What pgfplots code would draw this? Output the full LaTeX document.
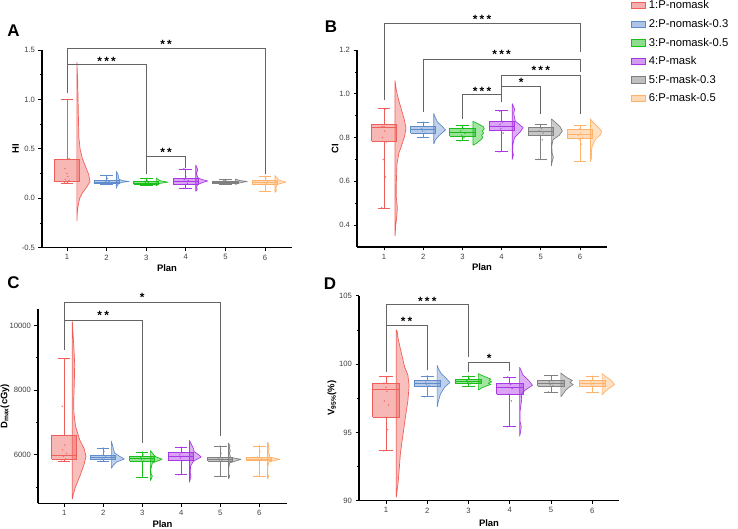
\documentclass[border=0pt]{standalone}
\usepackage{fontspec}
\setmainfont{Liberation Sans}
\usepackage{pgfplots}
\pgfplotsset{compat=1.18}

\definecolor{c1}{RGB}{238,95,90}
\definecolor{c2}{RGB}{95,140,205}
\definecolor{c3}{RGB}{25,190,25}
\definecolor{c4}{RGB}{170,55,230}
\definecolor{c5}{RGB}{128,128,128}
\definecolor{c6}{RGB}{255,178,105}
\definecolor{brk}{RGB}{100,100,100}

\pgfplotsset{
  panel/.style={
    scale only axis, anchor=south west, clip=false,
    axis lines*=left,
    axis line style={line width=1.1pt, black},
    xtick={1,2,3,4,5,6},
    tick align=outside, major tick length=3.5bp, minor tick length=2bp,
    every tick/.style={black, line width=0.7pt},
    tick label style={font=\fontsize{7.7}{8}\selectfont, text=black!75},
    /pgf/number format/assume math mode=true,
    /pgf/number format/1000 sep={},
    scaled y ticks=false,
    xlabel=Plan,
    label style={font=\bfseries\fontsize{9.5}{10}\selectfont},
  },
  vio/.style={draw=#1, fill=#1, fill opacity=0.4, line width=0.7pt, line join=round},
  bx/.style={draw=#1, fill=#1, fill opacity=0.45, line width=0.8pt},
  bxl/.style={draw=#1, line width=0.8pt},
  pts/.style={only marks, mark=*, mark size=0.6bp, draw=#1, fill=#1, opacity=0.6},
  br/.style={draw=brk, line width=0.75pt},
}
\tikzset{stars/.style={font=\bfseries\fontsize{12}{12}\selectfont, inner sep=0pt, yshift=-2.6bp}}
\newcommand{\starOne}{*}
\newcommand{\starTwo}{*\kern2.2bp*}
\newcommand{\starThree}{*\kern2.2bp*\kern2.2bp*}

% box with whiskers: colour, position, lower whisker, lower quartile, median, upper quartile, upper whisker
\newcommand{\bxp}[7]{%
  \addplot[bx=#1] table[row sep=\\, x expr=\thisrow{d}+#2, y=y] {d y\\ -0.32 #4\\ 0.32 #4\\ 0.32 #6\\ -0.32 #6\\ -0.32 #4\\};
  \addplot[bxl=#1] table[row sep=\\, x expr=\thisrow{d}+#2, y=y] {d y\\ -0.32 #5\\ 0.32 #5\\};
  \addplot[bxl=#1] table[row sep=\\, x expr=\thisrow{d}+#2, y=y] {d y\\ 0 #3\\ 0 #4\\};
  \addplot[bxl=#1] table[row sep=\\, x expr=\thisrow{d}+#2, y=y] {d y\\ 0 #6\\ 0 #7\\};
  \addplot[bxl=#1] table[row sep=\\, x expr=\thisrow{d}+#2, y=y] {d y\\ -0.16 #3\\ 0.16 #3\\};
  \addplot[bxl=#1] table[row sep=\\, x expr=\thisrow{d}+#2, y=y] {d y\\ -0.16 #7\\ 0.16 #7\\};
}

\begin{document}
\begin{tikzpicture}
\path[use as bounding box] (0,0) rectangle (738bp,529bp);

%% ---------------- Panel A: HI ----------------
\begin{axis}[panel, at={(42bp,281.3bp)}, width=250bp, height=197.7bp,
  xmin=0.37, xmax=6.68, ymin=-0.5, ymax=1.5,
  ytick={-0.5,0,0.5,1,1.5}, minor ytick={-0.25,0.25,0.75,1.25},
  yticklabel style={/pgf/number format/.cd, fixed, fixed zerofill, precision=1},
  ylabel=HI,
  xlabel style={at={(axis description cs:0.5,-0.103)}, anchor=center},
  ylabel style={at={(axis description cs:-0.106,0.5)}, anchor=center}]
% half violins
\addplot[vio=c1] table[row sep=\\, x expr=\thisrow{w}+1.25, y=y] {w y\\
0 -0.23\\ 0.01 -0.15\\ 0.03 -0.08\\ 0.07 0.0\\ 0.15 0.06\\ 0.26 0.12\\ 0.33 0.17\\ 0.30 0.24\\ 0.22 0.32\\ 0.14 0.40\\ 0.08 0.50\\ 0.05 0.62\\ 0.04 0.80\\ 0.03 1.00\\ 0.02 1.20\\ 0 1.38\\ 0 -0.23\\};
\addplot[vio=c2] table[row sep=\\, x expr=\thisrow{w}+2.25, y=y] {w y\\
0 0.10\\ 0.02 0.13\\ 0.06 0.15\\ 0.15 0.162\\ 0.32 0.17\\ 0.16 0.178\\ 0.07 0.19\\ 0.05 0.21\\ 0.04 0.24\\ 0 0.27\\ 0 0.10\\};
\addplot[vio=c3] table[row sep=\\, x expr=\thisrow{w}+3.25, y=y] {w y\\
0 0.125\\ 0.08 0.15\\ 0.30 0.163\\ 0.12 0.175\\ 0.05 0.19\\ 0 0.205\\ 0 0.125\\};
\addplot[vio=c4] table[row sep=\\, x expr=\thisrow{w}+4.25, y=y] {w y\\
0 0.07\\ 0.04 0.09\\ 0.02 0.11\\ 0.05 0.14\\ 0.18 0.16\\ 0.30 0.175\\ 0.15 0.19\\ 0.05 0.21\\ 0.02 0.25\\ 0.05 0.29\\ 0.03 0.31\\ 0 0.335\\ 0 0.07\\};
\addplot[vio=c5] table[row sep=\\, x expr=\thisrow{w}+5.25, y=y] {w y\\
0 0.14\\ 0.10 0.155\\ 0.30 0.17\\ 0.10 0.18\\ 0 0.195\\ 0 0.14\\};
\addplot[vio=c6] table[row sep=\\, x expr=\thisrow{w}+6.25, y=y] {w y\\
0 0.06\\ 0.04 0.075\\ 0.02 0.10\\ 0.06 0.14\\ 0.28 0.165\\ 0.12 0.18\\ 0.07 0.20\\ 0.03 0.215\\ 0 0.23\\ 0 0.06\\};
% boxes
\bxp{c1}{1}{0.152}{0.168}{0.175}{0.394}{1.0}
\bxp{c2}{2}{0.14}{0.148}{0.165}{0.178}{0.228}
\bxp{c3}{3}{0.135}{0.143}{0.155}{0.168}{0.20}
\bxp{c4}{4}{0.095}{0.145}{0.175}{0.20}{0.295}
\bxp{c5}{5}{0.14}{0.148}{0.162}{0.175}{0.19}
\bxp{c6}{6}{0.07}{0.14}{0.16}{0.18}{0.22}
% observations
\addplot[pts=c1] coordinates {(0.94,0.16)(1.04,0.17)(0.98,0.17)(1.06,0.18)(0.96,0.19)(1.02,0.22)(1.0,0.25)(0.95,0.30)(1.05,0.40)(1.03,1.0)};
\addplot[pts=c2] coordinates {(1.94,0.15)(2.04,0.16)(1.98,0.17)(2.06,0.17)(1.96,0.18)(2.02,0.20)(2.0,0.23)};
\addplot[pts=c3] coordinates {(2.94,0.14)(3.04,0.15)(2.98,0.16)(3.06,0.16)(2.96,0.17)(3.02,0.18)(3.0,0.20)};
\addplot[pts=c4] coordinates {(3.94,0.10)(4.04,0.15)(3.98,0.17)(4.06,0.18)(3.96,0.19)(4.02,0.20)(4.0,0.22)(3.95,0.30)};
\addplot[pts=c5] coordinates {(4.94,0.15)(5.04,0.16)(4.98,0.17)(5.06,0.17)(4.96,0.18)(5.02,0.19)};
\addplot[pts=c6] coordinates {(5.94,0.07)(6.04,0.15)(5.98,0.16)(6.06,0.17)(5.96,0.18)(6.02,0.20)(6.0,0.22)};
% significance brackets
\addplot[br] coordinates {(1,1.358)(1,1.52)(6,1.52)(6,0.25)};
\addplot[br] coordinates {(1,1.06)(1,1.358)(3,1.358)(3,0.25)};
\addplot[br] coordinates {(3,0.25)(3,0.428)(4,0.428)(4,0.31)};
\node[stars] at (axis cs:3.5,1.585) {\starTwo};
\node[stars] at (axis cs:2,1.416) {\starThree};
\node[stars] at (axis cs:3.5,0.488) {\starTwo};
\end{axis}

%% ---------------- Panel B: CI ----------------
\begin{axis}[panel, at={(357bp,282bp)}, width=250bp, height=197bp,
  xmin=0.31, xmax=6.69, ymin=0.3, ymax=1.2,
  ytick={0.4,0.6,0.8,1.0,1.2}, minor ytick={0.5,0.7,0.9,1.1},
  yticklabel style={/pgf/number format/.cd, fixed, fixed zerofill, precision=1},
  ylabel=CI,
  xlabel style={at={(axis description cs:0.5,-0.1015)}, anchor=center},
  ylabel style={at={(axis description cs:-0.088,0.5)}, anchor=center},
  legend style={at={(axis description cs:1.096,1.266)}, anchor=north west,
    draw=none, fill=none, inner sep=0pt, row sep=2.9bp,
    font=\fontsize{11.3}{12}\selectfont,
    nodes={inner sep=3bp, font=\fontsize{11.3}{12}\selectfont}},
  legend cell align=left,
  legend image code/.code={\draw[#1] (0bp,-3.2bp) rectangle (14bp,3.2bp);}]
\addlegendimage{draw=c1, fill=c1, fill opacity=0.5, line width=0.7pt}
\addlegendentry{1:P-nomask}
\addlegendimage{draw=c2, fill=c2, fill opacity=0.5, line width=0.7pt}
\addlegendentry{2:P-nomask-0.3}
\addlegendimage{draw=c3, fill=c3, fill opacity=0.5, line width=0.7pt}
\addlegendentry{3:P-nomask-0.5}
\addlegendimage{draw=c4, fill=c4, fill opacity=0.5, line width=0.7pt}
\addlegendentry{4:P-mask}
\addlegendimage{draw=c5, fill=c5, fill opacity=0.5, line width=0.7pt}
\addlegendentry{5:P-mask-0.3}
\addlegendimage{draw=c6, fill=c6, fill opacity=0.5, line width=0.7pt}
\addlegendentry{6:P-mask-0.5}
% half violins
\addplot[vio=c1] table[row sep=\\, x expr=\thisrow{w}+1.28, y=y] {w y\\
0 0.35\\ 0.02 0.40\\ 0.05 0.45\\ 0.06 0.48\\ 0.03 0.53\\ 0.035 0.60\\ 0.05 0.68\\ 0.10 0.73\\ 0.18 0.77\\ 0.25 0.81\\ 0.28 0.845\\ 0.24 0.88\\ 0.16 0.93\\ 0.08 0.98\\ 0.03 1.02\\ 0 1.06\\ 0 0.35\\};
\addplot[vio=c2] table[row sep=\\, x expr=\thisrow{w}+2.27, y=y] {w y\\
0 0.77\\ 0.04 0.79\\ 0.14 0.81\\ 0.30 0.835\\ 0.22 0.85\\ 0.10 0.87\\ 0.04 0.89\\ 0 0.91\\ 0 0.77\\};
\addplot[vio=c3] table[row sep=\\, x expr=\thisrow{w}+3.27, y=y] {w y\\
0 0.765\\ 0.10 0.775\\ 0.20 0.79\\ 0.25 0.80\\ 0.22 0.81\\ 0.27 0.82\\ 0.24 0.83\\ 0.29 0.84\\ 0.26 0.85\\ 0.16 0.86\\ 0 0.874\\ 0 0.765\\};
\addplot[vio=c4] table[row sep=\\, x expr=\thisrow{w}+4.27, y=y] {w y\\
0 0.70\\ 0.03 0.72\\ 0.01 0.74\\ 0.02 0.77\\ 0.06 0.80\\ 0.20 0.825\\ 0.28 0.845\\ 0.18 0.86\\ 0.08 0.875\\ 0.06 0.89\\ 0.04 0.91\\ 0.06 0.93\\ 0 0.955\\ 0 0.70\\};
\addplot[vio=c5] table[row sep=\\, x expr=\thisrow{w}+5.27, y=y] {w y\\
0 0.67\\ 0.02 0.69\\ 0.05 0.71\\ 0.02 0.73\\ 0.01 0.76\\ 0.04 0.79\\ 0.20 0.81\\ 0.28 0.83\\ 0.22 0.85\\ 0.10 0.87\\ 0 0.885\\ 0 0.67\\};
\addplot[vio=c6] table[row sep=\\, x expr=\thisrow{w}+6.27, y=y] {w y\\
0 0.69\\ 0.03 0.71\\ 0.02 0.73\\ 0.04 0.76\\ 0.12 0.79\\ 0.26 0.815\\ 0.28 0.83\\ 0.18 0.85\\ 0.06 0.87\\ 0 0.885\\ 0 0.69\\};
% boxes
\bxp{c1}{1}{0.478}{0.783}{0.848}{0.858}{0.932}
\bxp{c2}{2}{0.80}{0.82}{0.835}{0.851}{0.870}
\bxp{c3}{3}{0.785}{0.806}{0.822}{0.840}{0.855}
\bxp{c4}{4}{0.736}{0.832}{0.850}{0.874}{0.924}
\bxp{c5}{5}{0.702}{0.81}{0.828}{0.845}{0.862}
\bxp{c6}{6}{0.69}{0.794}{0.815}{0.835}{0.855}
% observations
\addplot[pts=c1] coordinates {(0.94,0.48)(1.04,0.62)(0.98,0.70)(1.06,0.78)(0.96,0.80)(1.02,0.83)(1.0,0.85)(0.95,0.85)(1.05,0.86)(1.03,0.93)};
\addplot[pts=c2] coordinates {(1.94,0.80)(2.04,0.82)(1.98,0.83)(2.06,0.835)(1.96,0.84)(2.02,0.85)(2.0,0.87)};
\addplot[pts=c3] coordinates {(2.94,0.785)(3.04,0.80)(2.98,0.81)(3.06,0.82)(2.96,0.83)(3.02,0.84)(3.0,0.85)};
\addplot[pts=c4] coordinates {(3.94,0.735)(4.04,0.82)(3.98,0.84)(4.06,0.85)(3.96,0.86)(4.02,0.87)(4.0,0.88)(3.95,0.92)};
\addplot[pts=c5] coordinates {(4.94,0.70)(5.04,0.79)(4.98,0.81)(5.06,0.82)(4.96,0.83)(5.02,0.84)(5.0,0.86)};
\addplot[pts=c6] coordinates {(5.94,0.69)(6.04,0.77)(5.98,0.79)(6.06,0.80)(5.96,0.81)(6.02,0.82)(6.0,0.84)(5.95,0.855)};
% significance brackets
\addplot[br] coordinates {(1,0.97)(1,1.323)(6,1.323)(6,1.19)};
\addplot[br] coordinates {(2,0.917)(2,1.157)(6,1.157)(6,1.10)};
\addplot[br] coordinates {(4,0.964)(4,1.085)(6,1.085)(6,0.909)};
\addplot[br] coordinates {(4,1.033)(5,1.033)(5,0.909)};
\addplot[br] coordinates {(3,0.886)(3,0.996)(4,0.996)};
\node[stars] at (axis cs:3.5,1.353) {\starThree};
\node[stars] at (axis cs:4,1.193) {\starThree};
\node[stars] at (axis cs:5,1.119) {\starThree};
\node[stars] at (axis cs:4.5,1.065) {\starOne};
\node[stars] at (axis cs:3.5,1.024) {\starThree};
\end{axis}

%% ---------------- Panel C: Dmax ----------------
\begin{axis}[panel, at={(38bp,25.7bp)}, width=249bp, height=194bp,
  xmin=0.33, xmax=6.71, ymin=4500, ymax=10500,
  ytick={6000,8000,10000}, minor ytick={5000,7000,9000},
  ylabel={D\textsubscript{max}(cGy)},
  xlabel style={at={(axis description cs:0.5,-0.107)}, anchor=center},
  ylabel style={at={(axis description cs:-0.1325,0.5)}, anchor=center}]
% half violins
\addplot[vio=c1] table[row sep=\\, x expr=\thisrow{w}+1.21, y=y] {w y\\
0 4630\\ 0.03 4800\\ 0.08 5000\\ 0.19 5330\\ 0.30 5700\\ 0.35 5950\\ 0.30 6200\\ 0.19 6460\\ 0.085 6870\\ 0.04 7300\\ 0.035 7670\\ 0.05 8200\\ 0.06 8800\\ 0.04 9300\\ 0.01 9900\\ 0 10120\\ 0 4630\\};
\addplot[vio=c2] table[row sep=\\, x expr=\thisrow{w}+2.21, y=y] {w y\\
0 5580\\ 0.05 5680\\ 0.14 5780\\ 0.33 5870\\ 0.20 5960\\ 0.08 6060\\ 0.05 6200\\ 0.02 6330\\ 0 6420\\ 0 5580\\};
\addplot[vio=c3] table[row sep=\\, x expr=\thisrow{w}+3.21, y=y] {w y\\
0 5200\\ 0.03 5280\\ 0.05 5340\\ 0.02 5400\\ 0.01 5550\\ 0.05 5750\\ 0.30 5860\\ 0.12 5950\\ 0.05 6050\\ 0 6130\\ 0 5200\\};
\addplot[vio=c4] table[row sep=\\, x expr=\thisrow{w}+4.21, y=y] {w y\\
0 5150\\ 0.02 5250\\ 0.04 5330\\ 0.02 5450\\ 0.03 5650\\ 0.10 5800\\ 0.30 5930\\ 0.24 6000\\ 0.12 6100\\ 0.10 6200\\ 0.04 6350\\ 0 6440\\ 0 5150\\};
\addplot[vio=c5] table[row sep=\\, x expr=\thisrow{w}+5.21, y=y] {w y\\
0 5250\\ 0.03 5330\\ 0.01 5400\\ 0.01 5600\\ 0.03 5750\\ 0.32 5860\\ 0.05 5920\\ 0.04 6000\\ 0.02 6060\\ 0.05 6120\\ 0.02 6200\\ 0.04 6280\\ 0 6360\\ 0 5250\\};
\addplot[vio=c6] table[row sep=\\, x expr=\thisrow{w}+6.21, y=y] {w y\\
0 5260\\ 0.03 5330\\ 0.01 5400\\ 0.01 5650\\ 0.04 5780\\ 0.32 5860\\ 0.06 5930\\ 0.04 6050\\ 0.02 6120\\ 0.05 6200\\ 0.02 6260\\ 0.04 6320\\ 0 6380\\ 0 5260\\};
% boxes
\bxp{c1}{1}{5805}{5866}{5969}{6587}{8977}
\bxp{c2}{2}{5800}{5850}{5920}{5990}{6207}
\bxp{c3}{3}{5298}{5800}{5880}{5940}{6083}
\bxp{c4}{4}{5382}{5820}{5950}{6060}{6237}
\bxp{c5}{5}{5330}{5810}{5860}{5920}{6268}
\bxp{c6}{6}{5340}{5820}{5870}{5930}{6270}
% observations
\addplot[pts=c1] coordinates {(0.94,5805)(1.04,5870)(0.98,5950)(1.06,6050)(0.96,6150)(1.02,6300)(1.0,6600)(0.95,7500)(1.05,8977)};
\addplot[pts=c2] coordinates {(1.94,5800)(2.04,5860)(1.98,5900)(2.06,5930)(1.96,5980)(2.02,6100)(2.0,6207)};
\addplot[pts=c3] coordinates {(2.94,5298)(3.04,5800)(2.98,5850)(3.06,5880)(2.96,5920)(3.02,6000)(3.0,6083)};
\addplot[pts=c4] coordinates {(3.94,5382)(4.04,5820)(3.98,5900)(4.06,5950)(3.96,6000)(4.02,6060)(4.0,6237)};
\addplot[pts=c5] coordinates {(4.94,5330)(5.04,5810)(4.98,5850)(5.06,5870)(4.96,5900)(5.02,6050)(5.0,6268)};
\addplot[pts=c6] coordinates {(5.94,5340)(6.04,5820)(5.98,5860)(6.06,5880)(5.96,5930)(6.02,6100)(6.0,6270)};
% significance brackets
\addplot[br] coordinates {(1,10173)(1,10707)(5,10707)(5,6566)};
\addplot[br] coordinates {(1,9245)(1,10173)(3,10173)(3,6361)};
\node[stars] at (axis cs:3,10945) {\starOne};
\node[stars] at (axis cs:2,10398) {\starTwo};
\end{axis}

%% ---------------- Panel D: V95 ----------------
\begin{axis}[panel, at={(359bp,28.3bp)}, width=260bp, height=205bp,
  xmin=0.345, xmax=6.65, ymin=90, ymax=105,
  ytick={90,95,100,105}, minor ytick={92.5,97.5,102.5},
  ylabel={V\textsubscript{95\%}(\%)},
  xlabel style={at={(axis description cs:0.5,-0.109)}, anchor=center},
  ylabel style={at={(axis description cs:-0.104,0.5)}, anchor=center}]
% half violins
\addplot[vio=c1] table[row sep=\\, x expr=\thisrow{w}+1.25, y=y] {w y\\
0 90.25\\ 0.02 90.8\\ 0.04 91.2\\ 0.07 92.3\\ 0.10 93.5\\ 0.16 94.8\\ 0.22 96.1\\ 0.28 97.3\\ 0.31 98.4\\ 0.28 99.2\\ 0.20 99.8\\ 0.10 101.1\\ 0.04 101.9\\ 0.02 102.4\\ 0 102.5\\ 0 90.25\\};
\addplot[vio=c2] table[row sep=\\, x expr=\thisrow{w}+2.24, y=y] {w y\\
0 96.85\\ 0.03 97.3\\ 0.08 97.8\\ 0.18 98.3\\ 0.31 98.65\\ 0.22 98.95\\ 0.10 99.3\\ 0.04 99.6\\ 0 99.9\\ 0 96.85\\};
\addplot[vio=c3] table[row sep=\\, x expr=\thisrow{w}+3.24, y=y] {w y\\
0 98.1\\ 0.08 98.25\\ 0.20 98.4\\ 0.30 98.5\\ 0.24 98.6\\ 0.32 98.7\\ 0.26 98.8\\ 0.30 98.9\\ 0.18 99.05\\ 0.06 99.2\\ 0 99.3\\ 0 98.1\\};
\addplot[vio=c4] table[row sep=\\, x expr=\thisrow{w}+4.24, y=y] {w y\\
0 94.7\\ 0.02 95.0\\ 0.04 95.4\\ 0.01 95.8\\ 0.01 96.5\\ 0.03 97.0\\ 0.05 97.4\\ 0.04 97.8\\ 0.14 98.1\\ 0.31 98.45\\ 0.22 98.8\\ 0.08 99.2\\ 0.04 99.5\\ 0 99.75\\ 0 94.7\\};
\addplot[vio=c5] table[row sep=\\, x expr=\thisrow{w}+5.24, y=y] {w y\\
0 97.6\\ 0.05 97.8\\ 0.12 98.1\\ 0.20 98.3\\ 0.30 98.5\\ 0.22 98.65\\ 0.28 98.8\\ 0.15 99.0\\ 0.06 99.2\\ 0 99.35\\ 0 97.6\\};
\addplot[vio=c6] table[row sep=\\, x expr=\thisrow{w}+6.24, y=y] {w y\\
0 97.75\\ 0.06 97.95\\ 0.16 98.2\\ 0.30 98.5\\ 0.25 98.7\\ 0.18 98.9\\ 0.08 99.1\\ 0 99.3\\ 0 97.75\\};
% boxes
\bxp{c1}{1}{93.66}{96.1}{98.15}{98.59}{99.07}
\bxp{c2}{2}{97.6}{98.4}{98.6}{98.8}{99.12}
\bxp{c3}{3}{98.35}{98.55}{98.7}{98.9}{99.1}
\bxp{c4}{4}{95.41}{97.8}{98.3}{98.59}{99.05}
\bxp{c5}{5}{97.95}{98.4}{98.6}{98.8}{99.15}
\bxp{c6}{6}{97.9}{98.4}{98.6}{98.8}{99.1}
% observations
\addplot[pts=c1] coordinates {(0.94,93.66)(1.04,95.2)(0.98,96.1)(1.06,97.0)(0.96,97.3)(1.02,98.0)(1.0,98.3)(0.95,98.6)(1.05,99.07)};
\addplot[pts=c2] coordinates {(1.94,97.6)(2.04,98.4)(1.98,98.5)(2.06,98.6)(1.96,98.7)(2.02,98.8)(2.0,99.12)};
\addplot[pts=c3] coordinates {(2.94,98.35)(3.04,98.55)(2.98,98.65)(3.06,98.7)(2.96,98.8)(3.02,98.9)(3.0,99.1)};
\addplot[pts=c4] coordinates {(3.94,95.41)(4.04,97.3)(3.98,97.8)(4.06,98.2)(3.96,98.3)(4.02,98.5)(4.0,98.6)(3.95,99.05)};
\addplot[pts=c5] coordinates {(4.94,97.95)(5.04,98.4)(4.98,98.5)(5.06,98.6)(4.96,98.7)(5.02,98.8)(5.0,99.15)};
\addplot[pts=c6] coordinates {(5.94,97.9)(6.04,98.4)(5.98,98.5)(6.06,98.6)(5.96,98.7)(6.02,98.8)(6.0,99.1)};
% significance brackets
\addplot[br] coordinates {(1,102.8)(1,104.37)(3,104.37)(3,100.53)};
\addplot[br] coordinates {(1,99.44)(1,102.8)(2,102.8)(2,99.56)};
\addplot[br] coordinates {(3,99.44)(3,100.13)(4,100.13)(4,99.5)};
\node[stars] at (axis cs:2,104.8) {\starThree};
\node[stars] at (axis cs:1.5,103.3) {\starTwo};
\node[stars] at (axis cs:3.5,100.6) {\starOne};
\end{axis}

% panel letters
\begin{scope}[every node/.style={font=\bfseries\fontsize{17}{17}\selectfont}]
\node at (13.5bp,498bp) {A};
\node at (331bp,502bp) {B};
\node at (13.5bp,246bp) {C};
\node at (330bp,245bp) {D};
\end{scope}
\end{tikzpicture}
\end{document}
